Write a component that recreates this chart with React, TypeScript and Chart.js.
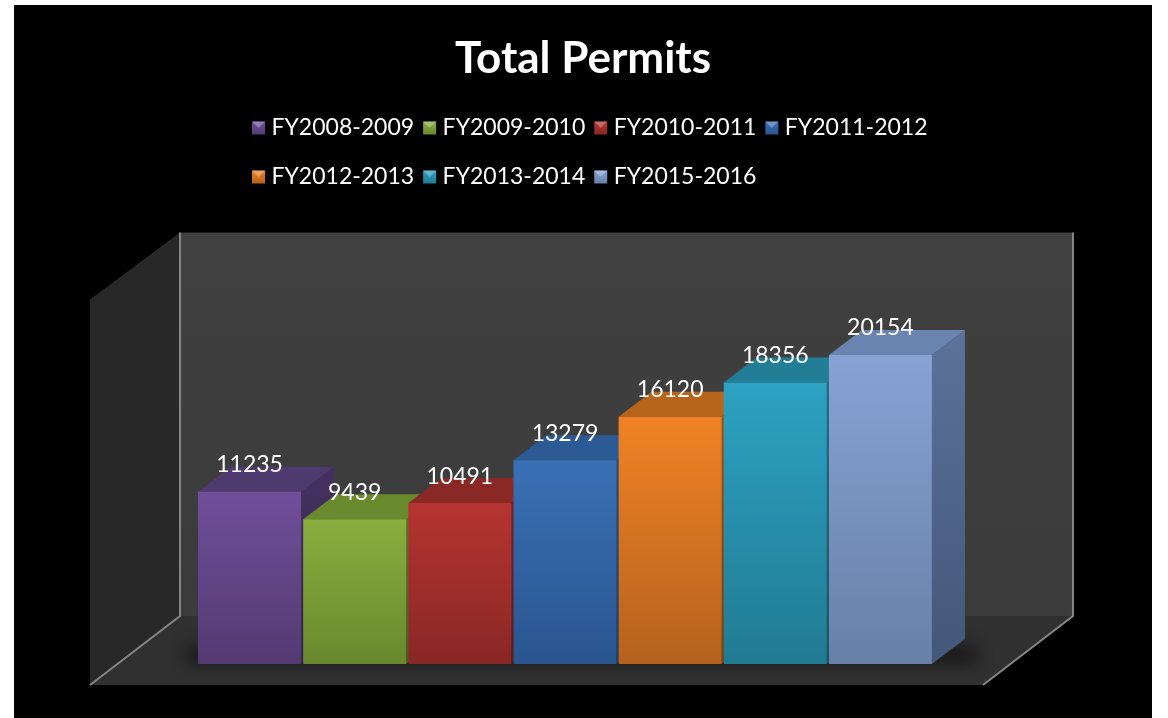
import React, { useEffect, useRef } from "react";
import { Chart, registerables } from "chart.js";

Chart.register(...registerables);

const categories = ["Total Permits"];
const seriesNames = ["FY2008-2009", "FY2009-2010", "FY2010-2011", "FY2011-2012", "FY2012-2013", "FY2013-2014", "FY2015-2016"];
const seriesValues = [11235, 9439, 10491, 13279, 16120, 18356, 20154];
const frontTop = ["#6f4f9a", "#8aae3e", "#b53431", "#3970b5", "#f08224", "#2da2c3", "#86a3d4"];
const frontBottom = ["#533a72", "#69882e", "#882725", "#2a558f", "#b5621e", "#217b92", "#6880a8"];
const topFace = ["#4f3a70", "#6a8a2e", "#8a2826", "#2c5a94", "#b8651c", "#227e96", "#6a84b2"];
const sideTop = ["#453162", "#5c7829", "#782220", "#264e80", "#a05818", "#1d6d82", "#5c7299"];
const sideBottom = ["#35254b", "#465c1f", "#5c1a18", "#1d3c62", "#7a4312", "#165463", "#43577a"];
const axisMax = 25000;
const fontFamily = "Lato, 'Open Sans', sans-serif";

const DEPTH_X = 33;
const DEPTH_Y = 25;

const scenePlugin = {
  id: "scene3d",
  afterLayout(chart: any) {
    const t = chart.titleBlock;
    t.left = 0;
    t.right = 1166;
    const l = chart.legend;
    l.left = 243;
    l.right = 243 + 736;
    l.top = 99;
    l.bottom = 99 + 130;
  },
  beforeDraw(chart: any) {
    const { ctx, chartArea: ca, width, height } = chart;
    ctx.save();
    ctx.fillStyle = "#ffffff";
    ctx.fillRect(0, 0, width, height);
    ctx.fillStyle = "#000000";
    ctx.fillRect(14, 5, 1138, height - 5);

    const backL = ca.left - 17;
    const backR = ca.right + 140;
    const backT = ca.top - 48;
    const backB = ca.bottom - 48;
    const frontL = backL - 90;
    const frontR = backR - 90;
    const frontB = ca.bottom + 21;
    const sideT = ca.top + 19;

    const wall = ctx.createLinearGradient(0, backT, 0, backB);
    wall.addColorStop(0, "#404040");
    wall.addColorStop(1, "#3b3b3b");
    ctx.fillStyle = wall;
    ctx.fillRect(backL, backT, backR - backL, backB - backT);

    ctx.fillStyle = "#282828";
    ctx.beginPath();
    ctx.moveTo(frontL, sideT);
    ctx.lineTo(backL, backT);
    ctx.lineTo(backL, backB);
    ctx.lineTo(frontL, frontB);
    ctx.closePath();
    ctx.fill();

    ctx.fillStyle = "#303030";
    ctx.beginPath();
    ctx.moveTo(backL, backB);
    ctx.lineTo(backR, backB);
    ctx.lineTo(frontR, frontB);
    ctx.lineTo(frontL, frontB);
    ctx.closePath();
    ctx.fill();

    ctx.strokeStyle = "#858585";
    ctx.lineWidth = 2;
    ctx.beginPath();
    ctx.moveTo(backL, backT);
    ctx.lineTo(backL, backB);
    ctx.lineTo(frontL, frontB);
    ctx.moveTo(backR, backT);
    ctx.lineTo(backR, backB);
    ctx.lineTo(frontR, frontB);
    ctx.stroke();

    ctx.save();
    ctx.beginPath();
    ctx.moveTo(backL, backB);
    ctx.lineTo(backR, backB);
    ctx.lineTo(frontR, frontB);
    ctx.lineTo(frontL, frontB);
    ctx.closePath();
    ctx.clip();
    ctx.filter = "blur(8px)";
    ctx.fillStyle = "rgba(0,0,0,0.5)";
    ctx.fillRect(ca.left - 10, ca.bottom - 18, ca.right - ca.left + 20 + DEPTH_X, 18);
    ctx.restore();
    ctx.restore();
  },
  beforeDatasetsDraw(chart: any) {
    const { ctx } = chart;
    ctx.save();
    seriesValues.forEach((_, i) => {
      const bar = chart.getDatasetMeta(i).data[0];
      const left = bar.x - bar.width / 2;
      const right = bar.x + bar.width / 2;
      const top = bar.y;
      const base = bar.base;
      ctx.fillStyle = topFace[i];
      ctx.beginPath();
      ctx.moveTo(left, top);
      ctx.lineTo(left + DEPTH_X, top - DEPTH_Y);
      ctx.lineTo(right + DEPTH_X, top - DEPTH_Y);
      ctx.lineTo(right, top);
      ctx.closePath();
      ctx.fill();
      const side = ctx.createLinearGradient(0, top - DEPTH_Y, 0, base);
      side.addColorStop(0, sideTop[i]);
      side.addColorStop(1, sideBottom[i]);
      ctx.fillStyle = side;
      ctx.beginPath();
      ctx.moveTo(right, top);
      ctx.lineTo(right + DEPTH_X, top - DEPTH_Y);
      ctx.lineTo(right + DEPTH_X, base - DEPTH_Y);
      ctx.lineTo(right, base);
      ctx.closePath();
      ctx.fill();
    });
    ctx.restore();
  },
  afterDraw(chart: any) {
    const { ctx } = chart;
    ctx.save();
    ctx.font = `23px ${fontFamily}`;
    ctx.fillStyle = "#ffffff";
    ctx.textAlign = "center";
    ctx.textBaseline = "middle";
    seriesValues.forEach((v, i) => {
      const bar = chart.getDatasetMeta(i).data[0];
      ctx.fillText(String(v), bar.x, bar.y - 27);
    });
    const boxes = chart.legend.legendHitBoxes || [];
    boxes.forEach((h: any, i: number) => {
      const size = 13;
      const x = h.left;
      const y = h.top + h.height / 2 - size / 2;
      const g = ctx.createLinearGradient(0, y, 0, y + size);
      g.addColorStop(0, frontTop[i]);
      g.addColorStop(1, frontBottom[i]);
      ctx.fillStyle = g;
      ctx.fillRect(x, y, size, size);
      ctx.fillStyle = "rgba(255,255,255,0.28)";
      ctx.beginPath();
      ctx.moveTo(x, y);
      ctx.lineTo(x + size, y);
      ctx.lineTo(x + size / 2, y + size / 2);
      ctx.closePath();
      ctx.fill();
    });
    ctx.restore();
  },
};

export default function App() {
  const ref = useRef<HTMLCanvasElement>(null);
  useEffect(() => {
    document.body.style.margin = "0";
    document.body.style.background = "#ffffff";
    const chart = new Chart(ref.current as HTMLCanvasElement, {
      type: "bar",
      data: {
        labels: categories,
        datasets: seriesNames.map((name, i) => ({
          label: name,
          data: [seriesValues[i]],
          barPercentage: 0.98,
          categoryPercentage: 1,
          backgroundColor: (c: any) => {
            const area = c.chart.chartArea;
            if (!area) return frontTop[i];
            const y = c.chart.scales.y;
            const g = c.chart.ctx.createLinearGradient(0, y.getPixelForValue(seriesValues[i]), 0, y.getPixelForValue(0));
            g.addColorStop(0, frontTop[i]);
            g.addColorStop(1, frontBottom[i]);
            return g;
          },
        })),
      },
      options: {
        responsive: false,
        animation: false,
        layout: { padding: { left: 197, right: 235, top: 0, bottom: 54 } },
        scales: {
          x: { display: false },
          y: { display: false, min: 0, max: axisMax },
        },
        plugins: {
          tooltip: { enabled: false },
          title: {
            display: true,
            text: "Total Permits",
            color: "#ffffff",
            font: { family: fontFamily, size: 44, weight: "bold" },
            padding: { top: 32, bottom: 87.8 },
          },
          legend: {
            display: true,
            position: "top",
            align: "start",
            labels: {
              color: "#ffffff",
              font: { family: fontFamily, size: 23 },
              boxWidth: 8,
              boxHeight: 40,
              padding: 9,
              generateLabels: () =>
                seriesNames.map((name, i) => ({
                  text: name,
                  datasetIndex: i,
                  fillStyle: "rgba(0,0,0,0)",
                  strokeStyle: "rgba(0,0,0,0)",
                  lineWidth: 0,
                  fontColor: "#ffffff",
                })),
            },
          },
        },
      },
      plugins: [scenePlugin],
    } as any);
    return () => chart.destroy();
  }, []);
  return <canvas ref={ref} width={1168} height={718} style={{ display: "block" }} />;
}
